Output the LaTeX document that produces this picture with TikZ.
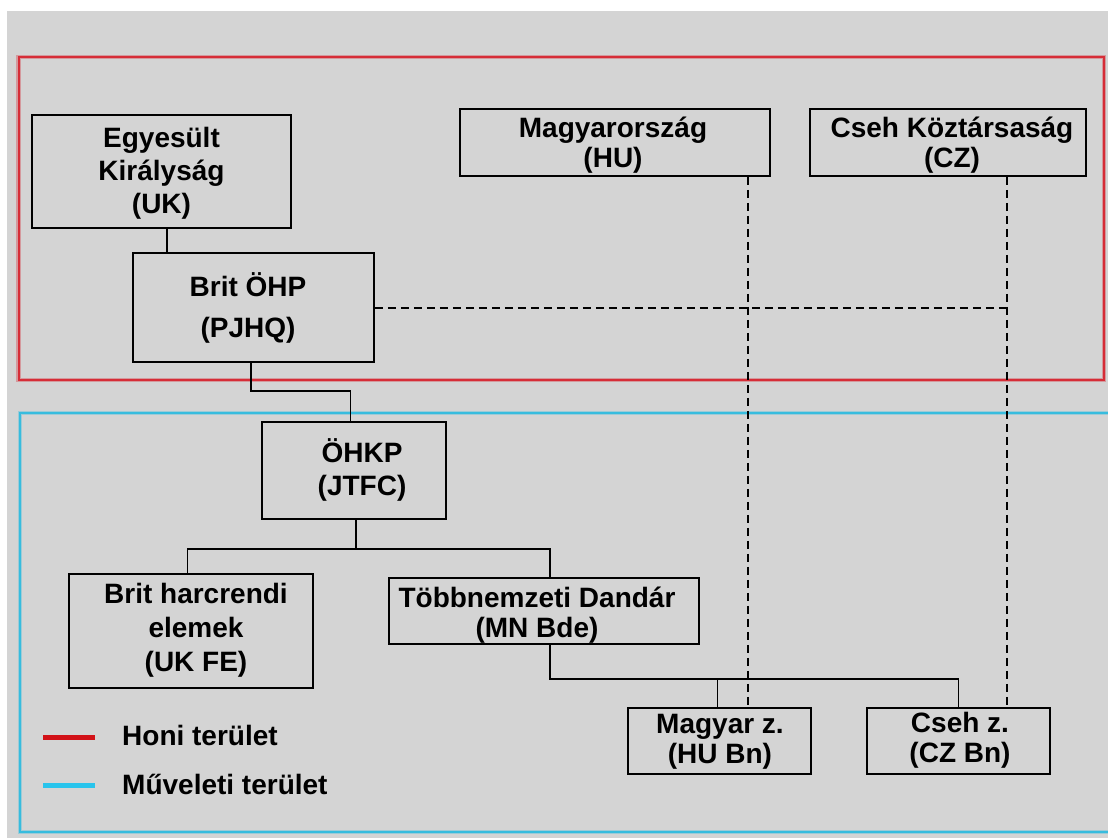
\documentclass[tikz,border=0pt]{standalone}
\usepackage{fontspec}
\setmainfont{Liberation Sans}
\definecolor{bggray}{RGB}{212,212,212}
\definecolor{homered}{RGB}{214,45,55}
\definecolor{opcyan}{RGB}{55,188,222}
\definecolor{legred}{RGB}{210,18,24}
\definecolor{legcyan}{RGB}{40,196,236}
\begin{document}
\begin{tikzpicture}[x=1pt,y=-1pt,
  box/.style={draw=black, line width=1.8pt, rectangle, inner sep=0pt},
  lbl/.style={inner sep=0pt, align=center, font=\fontsize{28}{#1}\selectfont\bfseries},
  link/.style={draw=black, line width=1.5pt},
  dashlink/.style={draw=black, line width=1.5pt, dash pattern=on 8pt off 5pt},
  halo/.style={line width=4.5pt, opacity=0.35},
  legline/.style={line width=5pt}]

% canvas
\useasboundingbox (0,0) rectangle (1108,838);
\fill[white] (0,0) rectangle (1108,838);
\fill[bggray] (7,11) rectangle (1108,838);

% home area (red) and area of operations (cyan)
\draw[homered, halo] (18.5,57) rectangle (1104,380);
\draw[homered, line width=2pt] (18.5,57) rectangle (1104,380);
\draw[opcyan, halo] (1112,413) -- (20,413) -- (20,832) -- (1112,832);
\draw[opcyan, line width=2pt] (1112,413) -- (20,413) -- (20,832) -- (1112,832);

% boxes
\node[box, minimum width=259pt, minimum height=113pt] (uk)   at (161.5,171.5) {};
\node[box, minimum width=241pt, minimum height=109pt] (pjhq) at (253.5,307.5) {};
\node[box, minimum width=310pt, minimum height=67pt]  (hu)   at (615,142.5) {};
\node[box, minimum width=276pt, minimum height=67pt]  (cz)   at (948,142.5) {};
\node[box, minimum width=184pt, minimum height=97pt]  (jtfc) at (354,470.5) {};
\node[box, minimum width=244pt, minimum height=114pt] (ukfe) at (191,631) {};
\node[box, minimum width=310pt, minimum height=66pt]  (mn)   at (544,611) {};
\node[box, minimum width=183pt, minimum height=66pt]  (hubn) at (719.5,741) {};
\node[box, minimum width=183pt, minimum height=66pt]  (czbn) at (958.5,741) {};

% box texts
\node[lbl=33] (uk-t)   at (161.5,173.4) {\strut Egyesült\\\strut Királyság\\\strut (UK)};
\node[lbl=41] (pjhq-t) at (248,308.3)   {\strut Brit ÖHP\\\strut (PJHQ)};
\node[lbl=30] (hu-t)   at (613,146)     {\strut Magyarország\\\strut (HU)};
\node[lbl=30] (cz-t)   at (952,146)     {\strut Cseh Köztársaság\\\strut (CZ)};
\node[lbl=33] (jtfc-t) at (362,472)     {\strut ÖHKP\\\strut (JTFC)};
\node[lbl=34] (ukfe-t) at (196,631)     {\strut Brit harcrendi\\\strut elemek\\\strut (UK FE)};
\node[lbl=30] (mn-t)   at (537,616)     {\strut Többnemzeti Dandár\\\strut (MN Bde)};
\node[lbl=30] (hubn-t) at (720,742)     {\strut Magyar z.\\\strut (HU Bn)};
\node[lbl=30] (czbn-t) at (960,741.5)   {\strut Cseh z.\\\strut (CZ Bn)};

% junction points
\coordinate (pj-bend) at (350.5,391);
\coordinate (jt-fork) at (356,549);
\coordinate (fe-fork) at (187.5,549);
\coordinate (mn-fork) at (550,549);
\coordinate (bn-join) at (550,679);
\coordinate (hu-fork) at (717.5,679);
\coordinate (cz-fork) at (958.5,679);
\coordinate (ctl-end) at (1007,308);

% command lines
\draw[link] (uk.south -| 167,0) -- (pjhq.north -| 167,0);
\draw[link] (pjhq.south -| 251,0) |- (pj-bend) -- (jtfc.north -| pj-bend);
\draw[link] (jtfc.south -| jt-fork) -- (jt-fork);
\draw[link] (ukfe.north -| fe-fork) -- (fe-fork) -- (mn-fork) -- (mn.north -| mn-fork);
\draw[link] (mn.south -| bn-join) -- (bn-join) -- (cz-fork) -- (czbn.north -| cz-fork);
\draw[link] (hu-fork) -- (hubn.north -| hu-fork);

% national control lines
\draw[dashlink] (hu.south -| 748,0) -- (hubn.north -| 748,0);
\draw[dashlink] (cz.south -| ctl-end) -- (czbn.north -| ctl-end);
\draw[dashlink] (pjhq.east |- ctl-end) -- (ctl-end);

% legend
\draw[legline, legred]  (43,737) -- (95,737);
\draw[legline, legcyan] (43,785) -- (95,785);
\node[anchor=base west, inner sep=0pt, font=\fontsize{28}{30}\selectfont\bfseries] (leg-home) at (122,745) {Honi terület};
\node[anchor=base west, inner sep=0pt, font=\fontsize{28}{30}\selectfont\bfseries] (leg-op)   at (122,794) {Műveleti terület};
\end{tikzpicture}
\end{document}
